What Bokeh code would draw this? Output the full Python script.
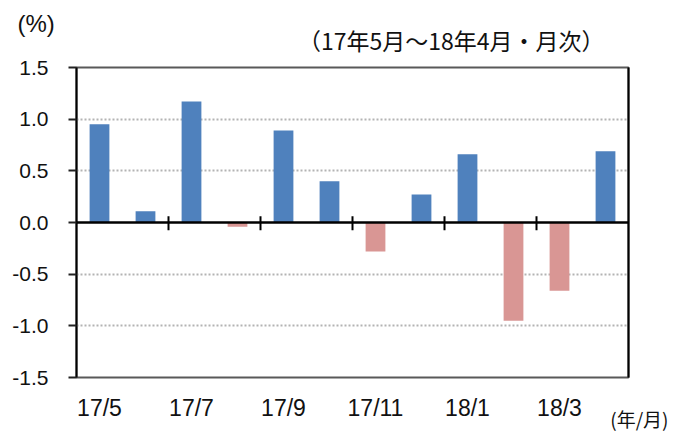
from bokeh.plotting import figure
from bokeh.models import Range1d, FixedTicker, Span, LinearAxis, ColumnDataSource, Title
from bokeh.embed import file_html
from bokeh.resources import INLINE

months = ["17/5", "17/6", "17/7", "17/8", "17/9", "17/10", "17/11", "17/12",
          "18/1", "18/2", "18/3", "18/4"]
values = [0.95, 0.11, 1.17, -0.04, 0.89, 0.40, -0.28, 0.27, 0.66, -0.95, -0.66, 0.69]
y_ticks = [-1.5, -1.0, -0.5, 0.0, 0.5, 1.0, 1.5]
y_tick_labels = ["-1.5", "-1.0", "-0.5", "0.0", "0.5", "1.0", "1.5"]
grid_ticks = [-1.0, -0.5, 0.5, 1.0]
x_label_every = 2
title_text = "（17年5月～18年4月・月次）"
y_unit = "(%)"
x_unit = "(年/月)"

POS = "#4F81BD"
NEG = "#D99694"

idx = list(range(len(months)))
colors = [POS if v >= 0 else NEG for v in values]
src = ColumnDataSource(dict(x=idx, top=values, color=colors))

p = figure(width=674, height=432, output_backend="svg", toolbar_location=None,
           x_range=Range1d(-0.5, len(months) - 0.5), y_range=Range1d(y_ticks[0], y_ticks[-1]),
           min_border_left=76, min_border_right=46, min_border_top=67, min_border_bottom=55)
p.background_fill_color = "white"
p.border_fill_color = "white"
p.outline_line_color = "#595959"
p.outline_line_width = 2

p.vbar(x="x", top="top", bottom=0, width=0.43, color="color", source=src, line_color=None)

# grid
p.xgrid.visible = False
p.ygrid.ticker = FixedTicker(ticks=grid_ticks)
p.ygrid.grid_line_color = "#b3b3b3"
p.ygrid.grid_line_width = 2
p.ygrid.grid_line_dash = "2 2"

# zero line
p.add_layout(Span(location=0, dimension="width", line_color="black", line_width=2.5))

# tick marks on the zero line between month pairs
bounds = [i + 0.5 for i in range(1, len(months) - 1, x_label_every)]
p.segment(x0=bounds, y0=[-0.075] * len(bounds), x1=bounds, y1=[0.06] * len(bounds),
          line_color="black", line_width=2)

# y axis
ya = p.yaxis[0]
ya.ticker = FixedTicker(ticks=y_ticks)
ya.major_label_overrides = {t: l for t, l in zip(y_ticks, y_tick_labels)}
ya.axis_line_color = "black"
ya.axis_line_width = 2
ya.major_tick_in = 0
ya.major_tick_out = 8
ya.major_tick_line_width = 2
ya.major_tick_line_color = "#222222"
ya.minor_tick_line_color = None
ya.major_label_standoff = 20
ya.major_label_text_font = "Liberation Sans"
ya.major_label_text_font_size = "21px"
ya.major_label_text_color = "#111111"

# x axis
xa = p.xaxis[0]
xt = idx[::x_label_every]
xa.ticker = FixedTicker(ticks=xt)
xa.major_label_overrides = {i: months[i] for i in xt}
xa.axis_line_color = None
xa.major_tick_line_color = None
xa.minor_tick_line_color = None
xa.major_tick_out = 0
xa.major_tick_in = 0
xa.major_label_standoff = 17
xa.major_label_text_font = "Liberation Sans"
xa.major_label_text_font_size = "23px"
xa.major_label_text_color = "#111111"

# right border axis
ra = LinearAxis(ticker=FixedTicker(ticks=[]), axis_line_color="black", axis_line_width=2,
                major_tick_line_color=None, minor_tick_line_color=None,
                major_label_text_font_size="0px")
p.add_layout(ra, "right")

# texts outside the frame (side panels, not clipped)
sub = Title(text=title_text, align="right", vertical_align="middle", standoff=19, offset=24,
            text_font="Noto Sans CJK JP", text_font_size="23px", text_font_style="normal",
            text_color="#111111")
p.add_layout(sub, "above")
pct = Title(text=y_unit, align="left", vertical_align="bottom", standoff=-48, offset=-59,
            text_font="Liberation Sans", text_font_size="24px", text_font_style="normal",
            text_color="#111111")
p.add_layout(pct, "above")
xu = Title(text=x_unit, align="right", vertical_align="top", standoff=-37, offset=-40,
           text_font="Noto Sans CJK JP", text_font_size="19px", text_font_style="normal",
           text_color="#111111")
p.add_layout(xu, "below")

open("out.html", "w").write(file_html(p, INLINE))
